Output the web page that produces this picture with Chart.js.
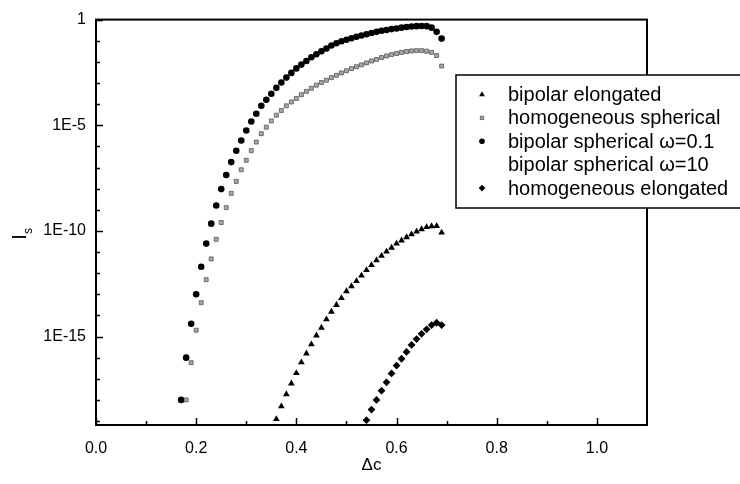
<!DOCTYPE html>
<html>
<head>
<meta charset="utf-8">
<script src="https://cdn.jsdelivr.net/npm/chart.js@4.4.1/dist/chart.umd.min.js"></script>
<style>
html, body { margin: 0; padding: 0; background: #fff; }
</style>
</head>
<body>
<canvas id="grafica" width="740" height="484"></canvas>
<script>
// bipolar spherical w=0.1 (circles)
var dcBipSph = [0.17, 0.18, 0.19, 0.20, 0.21, 0.22, 0.23, 0.24, 0.25, 0.26, 0.27, 0.28, 0.29, 0.30, 0.31, 0.32, 0.33, 0.34,
    0.35, 0.36, 0.37, 0.38, 0.39, 0.40, 0.41, 0.42, 0.43, 0.44, 0.45, 0.46, 0.47, 0.48, 0.49, 0.50, 0.51, 0.52,
    0.53, 0.54, 0.55, 0.56, 0.57, 0.58, 0.59, 0.60, 0.61, 0.62, 0.63, 0.64, 0.65, 0.66, 0.67, 0.68, 0.69];
var isBipSph = [1.0e-18, 1.0e-16, 4.0e-15, 1.0e-13, 2.0e-12, 2.5e-11, 2.2e-10, 1.6e-9, 9.5e-9, 4.4e-8, 1.8e-7, 6.2e-7,
    1.9e-6, 5.6e-6, 1.5e-5, 3.5e-5, 8.3e-5, 1.6e-4, 3.1e-4, 5.9e-4, 1.05e-3, 1.8e-3, 3.0e-3, 4.9e-3, 7.4e-3,
    1.1e-2, 1.66e-2, 2.3e-2, 3.2e-2, 4.3e-2, 5.9e-2, 7.6e-2, 9.5e-2, 0.112, 0.132, 0.155, 0.178, 0.204, 0.234,
    0.263, 0.295, 0.324, 0.355, 0.380, 0.417, 0.447, 0.468, 0.490, 0.501, 0.490, 0.417, 0.263, 0.126];

// homogeneous spherical (grey squares)
var dcHomSph = [0.18, 0.19, 0.20, 0.21, 0.22, 0.23, 0.24, 0.25, 0.26, 0.27, 0.28, 0.29, 0.30, 0.31, 0.32, 0.33, 0.34,
    0.35, 0.36, 0.37, 0.38, 0.39, 0.40, 0.41, 0.42, 0.43, 0.44, 0.45, 0.46, 0.47, 0.48, 0.49, 0.50, 0.51, 0.52,
    0.53, 0.54, 0.55, 0.56, 0.57, 0.58, 0.59, 0.60, 0.61, 0.62, 0.63, 0.64, 0.65, 0.66, 0.67, 0.68, 0.69];
var isHomSph = [1.0e-18, 5.8e-17, 2.0e-15, 4.0e-14, 4.9e-13, 4.7e-12, 4.0e-11, 2.5e-10, 1.26e-9, 6.0e-9, 2.2e-8,
    7.8e-8, 2.2e-7, 6.3e-7, 1.6e-6, 4.0e-6, 8.1e-6, 1.6e-5, 3.0e-5, 5.0e-5, 8.3e-5, 1.26e-4, 1.86e-4, 2.8e-4,
    4.0e-4, 5.6e-4, 7.9e-4, 1.05e-3, 1.35e-3, 1.8e-3, 2.3e-3, 3.0e-3, 3.8e-3, 4.8e-3, 5.9e-3, 7.2e-3, 8.9e-3,
    1.1e-2, 1.3e-2, 1.6e-2, 1.9e-2, 2.2e-2, 2.5e-2, 2.8e-2, 3.1e-2, 3.3e-2, 3.4e-2, 3.4e-2, 3.2e-2, 2.8e-2,
    2.0e-2, 6.3e-3];

// bipolar elongated (triangles)
var dcBipElo = [0.36, 0.37, 0.38, 0.39, 0.40, 0.41, 0.42, 0.43, 0.44, 0.45, 0.46, 0.47, 0.48, 0.49, 0.50, 0.51, 0.52,
    0.53, 0.54, 0.55, 0.56, 0.57, 0.58, 0.59, 0.60, 0.61, 0.62, 0.63, 0.64, 0.65, 0.66, 0.67, 0.68, 0.69];
var isBipElo = [1.23e-19, 5.0e-19, 1.86e-18, 6.0e-18, 1.86e-17, 6.0e-17, 1.58e-16, 4.3e-16, 1.12e-15, 2.6e-15,
    6.5e-15, 1.5e-14, 3.1e-14, 6.6e-14, 1.4e-13, 2.4e-13, 4.2e-13, 7.6e-13, 1.4e-12, 2.4e-12, 4.0e-12, 6.6e-12,
    1.05e-11, 1.6e-11, 2.5e-11, 3.5e-11, 5.0e-11, 6.9e-11, 9.3e-11, 1.2e-10, 1.5e-10, 1.66e-10, 1.7e-10, 8.3e-11];

// homogeneous elongated (diamonds)
var dcHomElo = [0.54, 0.55, 0.56, 0.57, 0.58, 0.59, 0.60, 0.61, 0.62, 0.63, 0.64, 0.65, 0.66, 0.67, 0.68, 0.69];
var isHomElo = [1.1e-19, 3.5e-19, 1.0e-18, 2.75e-18, 6.8e-18, 1.8e-17, 4.2e-17, 8.9e-17, 1.86e-16, 4.0e-16, 7.6e-16,
    1.35e-15, 2.2e-15, 3.5e-15, 4.5e-15, 3.5e-15];

// bipolar spherical w=10: no points visible in the figure
var dcBipSph10 = [];
var isBipSph10 = [];

var xTickValues = [0, 0.1, 0.2, 0.3, 0.4, 0.5, 0.6, 0.7, 0.8, 0.9, 1.0];
var xTickLabels = ['0.0', '', '0.2', '', '0.4', '', '0.6', '', '0.8', '', '1.0'];
var yTickValues = [1, 1e-1, 1e-2, 1e-3, 1e-4, 1e-5, 1e-6, 1e-7, 1e-8, 1e-9, 1e-10,
    1e-11, 1e-12, 1e-13, 1e-14, 1e-15, 1e-16, 1e-17, 1e-18, 1e-19];
var yTickLabels = ['1', '', '', '', '', '1E-5', '', '', '', '', '1E-10', '', '', '', '', '1E-15', '', '', '', ''];

var fuente = '"Liberation Sans", Arial, sans-serif';

function puntos(xs, ys) {
    return xs.map(function (x, i) { return { x: x, y: ys[i] }; });
}

// frame, inward tick marks, legend box and y title
var marcoPlugin = {
    id: 'marco',
    beforeDatasetsDraw: function (chart) {
        var ctx = chart.ctx, a = chart.chartArea;
        var xs = chart.scales.x, ys = chart.scales.y;
        ctx.save();
        ctx.strokeStyle = '#000';
        ctx.lineWidth = 2;
        ctx.strokeRect(a.left, a.top, a.right - a.left, a.bottom - a.top);
        ctx.lineWidth = 1.5;
        ctx.beginPath();
        xs.ticks.forEach(function (t) {
            var px = Math.round(xs.getPixelForValue(t.value)) + 0.5;
            var len = t.label ? 7 : 4;
            ctx.moveTo(px, a.bottom);
            ctx.lineTo(px, a.bottom - len);
        });
        ys.ticks.forEach(function (t) {
            var py = Math.round(ys.getPixelForValue(t.value)) + 0.5;
            var len = t.label ? 7 : 4;
            ctx.moveTo(a.left, py);
            ctx.lineTo(a.left + len, py);
        });
        ctx.stroke();
        ctx.restore();
    },
    afterDraw: function (chart) {
        var ctx = chart.ctx;
        ctx.save();
        // y title: I with subscript s, rotated
        ctx.fillStyle = '#000';
        ctx.translate(26, 237);
        ctx.rotate(-Math.PI / 2);
        ctx.textBaseline = 'alphabetic';
        ctx.textAlign = 'center';
        ctx.font = '20px ' + fuente;
        ctx.fillText('I', 0, 0);
        ctx.textAlign = 'left';
        ctx.font = '12px ' + fuente;
        ctx.fillText('s', 3, 6);
        ctx.restore();

        // legend
        var lx = 456, ly = 75, lh = 133;
        ctx.save();
        ctx.fillStyle = '#fff';
        ctx.fillRect(lx, ly, 760 - lx, lh);
        ctx.strokeStyle = '#000';
        ctx.lineWidth = 1.5;
        ctx.strokeRect(lx, ly, 760 - lx, lh);
        ctx.font = '20px ' + fuente;
        ctx.textBaseline = 'middle';
        ctx.textAlign = 'left';
        chart.data.datasets.forEach(function (ds, i) {
            var y = ly + 19.5 + i * 23.4;
            if (ds.pointStyle && ds.pointRadius > 0) {
                ctx.fillStyle = ds.backgroundColor;
                ctx.strokeStyle = ds.borderColor;
                ctx.lineWidth = ds.borderWidth;
                Chart.helpers.drawPoint(ctx, {
                    pointStyle: ds.pointStyle,
                    radius: ds.pointRadius * 0.85,
                    rotation: 0,
                    borderWidth: ds.borderWidth
                }, 482, y);
            }
            ctx.fillStyle = '#000';
            ctx.fillText(ds.label, 508, y + 1);
        });
        ctx.restore();
    }
};

var ctx = document.getElementById('grafica').getContext('2d');
var myChart = new Chart(ctx, {
    type: 'scatter',
    data: {
        datasets: [{
            label: 'bipolar elongated',
            data: puntos(dcBipElo, isBipElo),
            pointStyle: 'triangle',
            pointRadius: 3.9,
            backgroundColor: '#000',
            borderColor: '#000',
            borderWidth: 0
        }, {
            label: 'homogeneous spherical',
            data: puntos(dcHomSph, isHomSph),
            pointStyle: 'rect',
            pointRadius: 2.8,
            backgroundColor: '#a8a8a8',
            borderColor: '#555',
            borderWidth: 0.8
        }, {
            label: 'bipolar spherical \u03c9=0.1',
            data: puntos(dcBipSph, isBipSph),
            pointStyle: 'circle',
            pointRadius: 3.3,
            backgroundColor: '#000',
            borderColor: '#000',
            borderWidth: 0
        }, {
            label: 'bipolar spherical \u03c9=10',
            data: puntos(dcBipSph10, isBipSph10),
            pointStyle: false,
            pointRadius: 0,
            backgroundColor: '#000',
            borderColor: '#000',
            borderWidth: 0
        }, {
            label: 'homogeneous elongated',
            data: puntos(dcHomElo, isHomElo),
            pointStyle: 'rectRot',
            pointRadius: 3.9,
            backgroundColor: '#000',
            borderColor: '#000',
            borderWidth: 0
        }]
    },
    options: {
        responsive: false,
        animation: false,
        events: [],
        layout: { padding: { top: 13, right: 93, left: 0, bottom: 0 } },
        plugins: { legend: { display: false }, tooltip: { enabled: false } },
        scales: {
            x: {
                type: 'linear',
                min: 0,
                max: 1.1,
                grid: { display: false, drawTicks: false },
                border: { display: false },
                afterBuildTicks: function (scale) {
                    scale.ticks = xTickValues.map(function (v) { return { value: v }; });
                },
                afterFit: function (scale) { scale.height = 59; },
                ticks: {
                    autoSkip: false,
                    maxRotation: 0,
                    padding: 14,
                    color: '#000',
                    font: { family: fuente, size: 16 },
                    callback: function (value, index) { return xTickLabels[index]; }
                },
                title: {
                    display: true,
                    text: '\u0394c',
                    color: '#000',
                    font: { family: fuente, size: 17 },
                    padding: { top: 0, bottom: 8 }
                }
            },
            y: {
                type: 'logarithmic',
                min: 6.5e-20,
                max: 1,
                grid: { display: false, drawTicks: false },
                border: { display: false },
                afterBuildTicks: function (scale) {
                    scale.ticks = yTickValues.map(function (v) { return { value: v }; });
                },
                afterFit: function (scale) { scale.width = 96; },
                ticks: {
                    autoSkip: false,
                    padding: 10,
                    color: '#000',
                    font: { family: fuente, size: 16 },
                    callback: function (value, index) { return yTickLabels[index]; }
                }
            }
        }
    },
    plugins: [marcoPlugin]
});
</script>
</body>
</html>
